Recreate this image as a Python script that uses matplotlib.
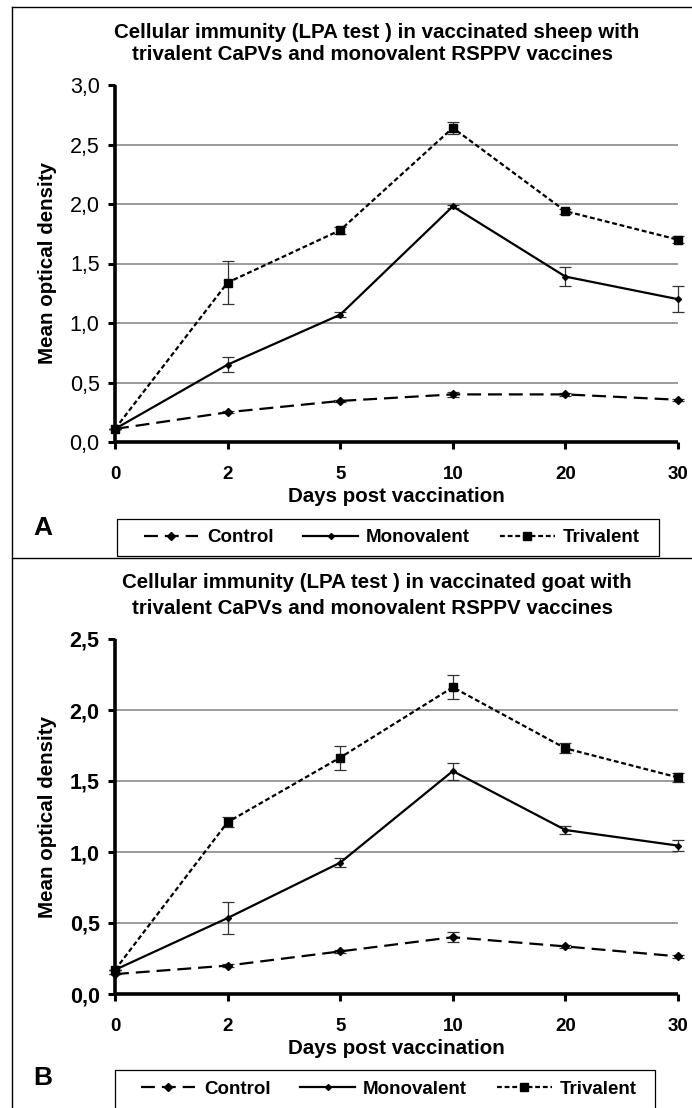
import matplotlib
matplotlib.use("Agg")
import matplotlib.pyplot as plt
from matplotlib.lines import Line2D
from matplotlib.patches import Rectangle

plt.rcParams['font.family'] = ['Liberation Sans', 'DejaVu Sans']
plt.rcParams['lines.scale_dashes'] = False

days = ["0", "2", "5", "10", "20", "30"]

# Panel A (sheep)
a_control = [0.11, 0.25, 0.345, 0.40, 0.40, 0.355]
a_control_err = [0.0, 0.01, 0.01, 0.02, 0.01, 0.01]
a_mono = [0.11, 0.65, 1.07, 1.98, 1.39, 1.20]
a_mono_err = [0.0, 0.065, 0.02, 0.01, 0.08, 0.11]
a_tri = [0.11, 1.34, 1.78, 2.64, 1.94, 1.70]
a_tri_err = [0.0, 0.18, 0.03, 0.05, 0.02, 0.03]

# Panel B (goat)
b_control = [0.14, 0.20, 0.30, 0.40, 0.335, 0.265]
b_control_err = [0.0, 0.01, 0.01, 0.035, 0.01, 0.01]
b_mono = [0.17, 0.535, 0.925, 1.57, 1.155, 1.045]
b_mono_err = [0.0, 0.11, 0.03, 0.06, 0.025, 0.04]
b_tri = [0.17, 1.21, 1.665, 2.16, 1.73, 1.525]
b_tri_err = [0.0, 0.035, 0.085, 0.085, 0.035, 0.03]

series_names = ["Control", "Monovalent", "Trivalent"]

W, H = 692, 1108
fig = plt.figure(figsize=(W / 100, H / 100), dpi=100)


def fx(px):
    return px / W


def fy(py):
    return 1 - py / H


styles = [
    dict(color='black', lw=1.6, dashes=(10, 5), marker='D', ms=4.5),
    dict(color='black', lw=1.6, ls='-', marker='D', ms=3),
    dict(color='black', lw=1.6, dashes=(3.5, 2), marker='s', ms=5.5),
]


def panel(top_px, bot_px, ymax, yticks, data, errs, ytick_weight):
    ax = fig.add_axes([fx(115), fy(bot_px), fx(678) - fx(115), (bot_px - top_px) / H])
    x = list(range(len(days)))
    for gy in yticks[1:]:
        if gy < ymax:
            ax.axhline(gy, color='#808080', lw=1.1, zorder=1)
    handles = []
    for vals, err, st in zip(data, errs, styles):
        ax.errorbar(x, vals, yerr=err, fmt='none', ecolor='#333333',
                    elinewidth=0.9, capsize=4, capthick=0.9, zorder=2, clip_on=False)
        h, = ax.plot(x, vals, zorder=3, clip_on=False, **st)
        handles.append(h)
    ax.set_xlim(0, 5)
    ax.set_ylim(0, ymax)
    ax.set_xticks(x)
    ax.set_xticklabels(days, fontsize=13.5, fontweight='bold')
    ax.set_yticks(yticks)
    ax.set_yticklabels([f"{v:.1f}".replace('.', ',') for v in yticks],
                       fontsize=15.5, fontweight=ytick_weight)
    for s in ['top', 'right']:
        ax.spines[s].set_visible(False)
    for s in ['left', 'bottom']:
        ax.spines[s].set_linewidth(2.6)
        ax.spines[s].set_capstyle('butt')
    ax.tick_params(axis='x', length=5, width=2.2, pad=12)
    ax.tick_params(axis='y', length=5, width=2.2, pad=6)
    ax.set_xlabel("Days post vaccination", fontsize=14.8, fontweight='bold', labelpad=3)
    ax.set_ylabel("Mean optical density", fontsize=14.8, fontweight='bold')
    ax.yaxis.set_label_coords(fx(57 - 115) / (fx(678) - fx(115)), 0.5)
    return ax, handles


axA, hA = panel(85, 442, 3.0, [0.0, 0.5, 1.0, 1.5, 2.0, 2.5, 3.0],
                [a_control, a_mono, a_tri], [a_control_err, a_mono_err, a_tri_err], 'normal')
axB, hB = panel(639, 994, 2.5, [0.0, 0.5, 1.0, 1.5, 2.0, 2.5],
                [b_control, b_mono, b_tri], [b_control_err, b_mono_err, b_tri_err], 'bold')

# Titles
tfs = 14.8
fig.text(fx(377), fy(33), "Cellular immunity (LPA test ) in vaccinated sheep with",
         ha='center', va='center', fontsize=tfs, fontweight='bold')
fig.text(fx(372), fy(54), "trivalent CaPVs and monovalent RSPPV vaccines",
         ha='center', va='center', fontsize=tfs, fontweight='bold')
fig.text(fx(377), fy(583), "Cellular immunity (LPA test ) in vaccinated goat with",
         ha='center', va='center', fontsize=tfs, fontweight='bold')
fig.text(fx(372), fy(608), "trivalent CaPVs and monovalent RSPPV vaccines",
         ha='center', va='center', fontsize=tfs, fontweight='bold')

# Panel letters
fig.text(fx(43), fy(528), "A", ha='center', va='center', fontsize=19, fontweight='heavy')
fig.text(fx(43), fy(1078), "B", ha='center', va='center', fontsize=19, fontweight='heavy')

# Legend boxes
fig.add_artist(Rectangle((fx(117), fy(556)), fx(659) - fx(117), (556 - 519) / H,
                         transform=fig.transFigure, fill=False, ec='black', lw=0.9))
fig.add_artist(Rectangle((fx(115), fy(1120)), fx(655) - fx(115), (1120 - 1070) / H,
                         transform=fig.transFigure, fill=False, ec='black', lw=0.9))
for hs, cx, cy in [(hA, 392, 537.5), (hB, 389, 1089)]:
    fig.legend(hs, series_names, loc='center', bbox_to_anchor=(fx(cx), fy(cy)),
               ncol=3, frameon=False, handlelength=2.9, handletextpad=0.45,
               columnspacing=1.6, prop=dict(size=13.5, weight='bold'),
               borderpad=0, borderaxespad=0)

# Panel borders
for xs, ys in [([12, 692], [7, 7]), ([12, 12], [7, 1108]), ([12, 692], [558, 558])]:
    fig.add_artist(Line2D([fx(v) for v in xs], [fy(v) for v in ys],
                          transform=fig.transFigure, color='black', lw=1.0))

fig.savefig("out.png", dpi=100)
